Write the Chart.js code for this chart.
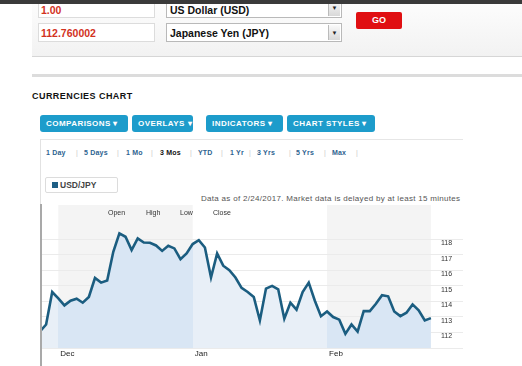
<!DOCTYPE html>
<html><head><meta charset="utf-8">
<script src="https://cdn.jsdelivr.net/npm/chart.js@4"></script>
<style>
body{margin:0;width:522px;height:366px;overflow:hidden;background:#fff;font-family:"Liberation Sans",Arial,sans-serif;position:relative}
.a{position:absolute;white-space:nowrap}
.topbar{left:0;top:0;width:522px;height:4px;background:#3a3a3a;z-index:3}
.panel{left:32px;top:0;width:490px;height:56px;background:linear-gradient(#fdfdfd,#f2f2f2);border-bottom:1px solid #d6d6d6}
.inp{background:#fff;border:1px solid #dcdcdc;color:#d2321e;font-weight:bold;font-size:10.5px;line-height:18px;padding-left:2px;box-sizing:border-box}
.sel{background:#fff;border:1px solid #b9b9b9;color:#111;font-weight:bold;font-size:10.5px;line-height:18px;padding-left:3px;box-sizing:border-box}
.dd{position:absolute;right:1px;top:1px;width:11px;bottom:1px;background:linear-gradient(#fafafa,#d8d8d8);border-left:1px solid #bbb;font-size:6px;line-height:16px;text-align:center;color:#222}
.go{left:356px;top:12px;width:46px;height:17px;background:#e00f12;border-radius:2px;color:#fff;font-weight:bold;font-size:9px;line-height:17px;text-align:center}
.sep{left:32px;top:74px;width:490px;height:3px;background:#dcdcdc}
.title{left:32px;top:91px;font-size:9px;font-weight:bold;color:#111;letter-spacing:0.45px}
.btn{top:115px;height:17px;background:#1d9ccb;border-radius:3px;color:#fff;font-weight:bold;font-size:8px;line-height:17px;padding-left:6px;box-sizing:border-box;letter-spacing:0.45px}
.frame{left:40px;top:139px;width:423px;height:227px;border-top:1px solid #e6e6e6;border-left:1px solid #e2e2e2;box-sizing:border-box}
.rng{top:148px;font-size:7px;color:#2e6390;line-height:9px;font-weight:bold;letter-spacing:0.2px}
.pipe{top:148px;font-size:7px;color:#c8c8c8;line-height:9px}
.leg{left:45px;top:177px;width:73px;height:16px;border:1px solid #dcdcdc;border-radius:2px;box-sizing:border-box;font-size:8.5px;font-weight:bold;color:#444;line-height:14px;padding-left:6px}
.leg i{display:inline-block;width:6px;height:6px;background:#1f5f85;margin-right:2px;vertical-align:0px}
.note{left:201px;top:194px;font-size:8px;color:#555;letter-spacing:0.3px}
.ohlc{top:209px;font-size:7px;color:#333}
.vline{left:40px;top:204px;width:2px;height:162px;background:#a9a9a9;z-index:2}
#wrap{position:absolute;left:40px;top:205px;width:482px;height:161px}
</style></head><body>
<div class="a topbar"></div>
<div class="a panel"></div>
<div class="a inp" style="left:38px;top:-2px;width:117px;height:20px;padding-top:2px">1.00</div>
<div class="a inp" style="left:38px;top:23px;width:117px;height:19px">112.760002</div>
<div class="a sel" style="left:166px;top:-2px;width:176px;height:20px;padding-top:2px">US Dollar (USD)<span class="dd">▼</span></div>
<div class="a sel" style="left:166px;top:23px;width:176px;height:19px">Japanese Yen (JPY)<span class="dd">▼</span></div>
<div class="a go">GO</div>
<div class="a sep"></div>
<div class="a title">CURRENCIES CHART</div>
<div class="a btn" style="left:40px;width:88px">COMPARISONS ▾</div>
<div class="a btn" style="left:132px;width:61px">OVERLAYS ▾</div>
<div class="a btn" style="left:206px;width:77px">INDICATORS ▾</div>
<div class="a btn" style="left:287px;width:88px">CHART STYLES ▾</div>
<div class="a frame"></div>
<div class="a rng" style="left:46px">1 Day</div><div class="a pipe" style="left:76px">|</div>
<div class="a rng" style="left:84px">5 Days</div><div class="a pipe" style="left:117px">|</div>
<div class="a rng" style="left:126px">1 Mo</div><div class="a pipe" style="left:151px">|</div>
<div class="a rng" style="left:160px;color:#111">3 Mos</div><div class="a pipe" style="left:190px">|</div>
<div class="a rng" style="left:198px">YTD</div><div class="a pipe" style="left:221px">|</div>
<div class="a rng" style="left:230px">1 Yr</div><div class="a pipe" style="left:249px">|</div>
<div class="a rng" style="left:257px">3 Yrs</div><div class="a pipe" style="left:289px">|</div>
<div class="a rng" style="left:296px">5 Yrs</div><div class="a pipe" style="left:324px">|</div>
<div class="a rng" style="left:332px">Max</div><div class="a pipe" style="left:356px">|</div>
<div class="a leg"><i></i>USD/JPY</div>
<div class="a note">Data as of 2/24/2017. Market data is delayed by at least 15 minutes</div>
<div id="wrap"><canvas id="c" width="482" height="161"></canvas></div>
<div class="a ohlc" style="left:108px">Open</div>
<div class="a ohlc" style="left:146px">High</div>
<div class="a ohlc" style="left:180px">Low</div>
<div class="a ohlc" style="left:213px">Close</div>
<div class="a vline"></div>
<script>
// USD/JPY daily closes, 28 Nov 2016 – 24 Feb 2017 (weekdays)
const usdJpy = [
  112.06, 112.51, 114.60, 114.19, 113.74, 114.04, 114.17, 113.91, 114.28, 115.50,
  115.20, 115.34, 117.18, 118.37, 118.15, 117.29, 118.04, 117.78, 117.76, 117.59,
  117.24, 117.57, 117.40, 116.71, 117.08, 117.68, 117.93, 117.46, 115.53, 117.08,
  116.29, 116.00, 115.53, 114.86, 114.60, 114.28, 112.77, 114.82, 114.99, 114.77,
  112.88, 113.91, 113.46, 114.60, 115.20, 114.04, 113.04, 113.35, 112.99, 112.82,
  111.91, 112.51, 112.06, 113.37, 113.37, 113.84, 114.39, 114.32, 113.35, 113.05,
  113.27, 113.80, 113.42, 112.77, 112.92
];
const monthLabels = ['Dec', 'Jan', 'Feb'];
const yTickValues = [112, 113, 114, 115, 116, 117, 118];

// trading-day categories (weekdays) starting 28 Nov 2016
const tradingDays = [];
{
  const d = new Date(2016, 10, 28);
  while (tradingDays.length < usdJpy.length) {
    const wd = d.getDay();
    if (wd !== 0 && wd !== 6) tradingDays.push(new Date(d));
    d.setDate(d.getDate() + 1);
  }
}
// first trading day of each month
const monthStarts = [];
tradingDays.forEach((d, i) => {
  if (i > 0 && d.getMonth() !== tradingDays[i - 1].getMonth()) monthStarts.push(i);
});
const shadedMonths = monthStarts.filter((_, k) => k % 2 === 0); // Dec, Feb

function bandRanges() {
  return shadedMonths.map(s => {
    const k = monthStarts.indexOf(s);
    const e = k + 1 < monthStarts.length ? monthStarts[k + 1] : usdJpy.length - 1;
    return [s, e];
  });
}

const bandPlugin = {
  id: 'bands',
  beforeDraw(chart) {
    const {ctx, chartArea, scales: {x}} = chart;
    ctx.save();
    ctx.fillStyle = '#f4f4f4';
    bandRanges().forEach(([s, e]) => {
      const x0 = x.getPixelForValue(s), x1 = x.getPixelForValue(e);
      ctx.fillRect(x0, chartArea.top, x1 - x0, chartArea.bottom - chartArea.top);
    });
    ctx.restore();
  }
};

function fillColor(context) {
  const chart = context.chart;
  const {chartArea, scales} = chart;
  if (!chartArea || !scales.x) return '#e6eef7';
  const x = scales.x;
  const L = chartArea.left, R = chartArea.right, W = R - L;
  const g = chart.ctx.createLinearGradient(L, 0, R, 0);
  const out = '#e8eff7', inn = '#d9e6f4';
  g.addColorStop(0, out);
  bandRanges().forEach(([s, e]) => {
    const p0 = Math.min(1, Math.max(0, (x.getPixelForValue(s) - L) / W));
    const p1 = Math.min(1, Math.max(0, (x.getPixelForValue(e) - L) / W));
    g.addColorStop(p0, out); g.addColorStop(p0, inn);
    g.addColorStop(p1, inn); g.addColorStop(p1, out);
  });
  g.addColorStop(1, out);
  return g;
}

new Chart(document.getElementById('c'), {
  type: 'line',
  data: {
    datasets: [{
      label: 'USD/JPY',
      data: usdJpy.map((v, i) => ({x: i, y: v})),
      borderColor: '#1b5d80',
      borderWidth: 2.6,
      pointRadius: 0,
      tension: 0,
      fill: 'start',
      backgroundColor: fillColor
    }]
  },
  options: {
    responsive: false,
    animation: false,
    devicePixelRatio: 1,
    layout: {padding: {left: 0, right: 59, top: 0, bottom: 0}},
    plugins: {legend: {display: false}, tooltip: {enabled: false}},
    scales: {
      x: {
        type: 'linear', min: 0, max: usdJpy.length,
        grid: {display: false, drawTicks: false},
        border: {display: false},
        afterBuildTicks: s => { s.ticks = monthStarts.map(v => ({value: v})); },
        afterFit: s => { s.height = 18; },
        ticks: {
          autoSkip: false, maxRotation: 0, align: 'start', labelOffset: 2, padding: 1,
          color: '#222', font: {family: '"Liberation Sans", Arial', size: 8},
          callback: (v, k) => monthLabels[k]
        }
      },
      y: {
        position: 'right', min: 111, max: 120.19,
        grid: {color: '#ebebeb', lineWidth: 1, tickLength: 26, drawTicks: true},
        border: {display: false},
        afterBuildTicks: s => { s.ticks = [111].concat(yTickValues).map(v => ({value: v})); },
        afterFit: s => { s.width = 26; },
        ticks: {
          padding: -22, labelOffset: 4, color: '#333',
          font: {family: '"Liberation Sans", Arial', size: 7},
          callback: v => (yTickValues.includes(v) ? String(v) : '')
        }
      }
    }
  },
  plugins: [bandPlugin]
});
</script>
</body></html>
